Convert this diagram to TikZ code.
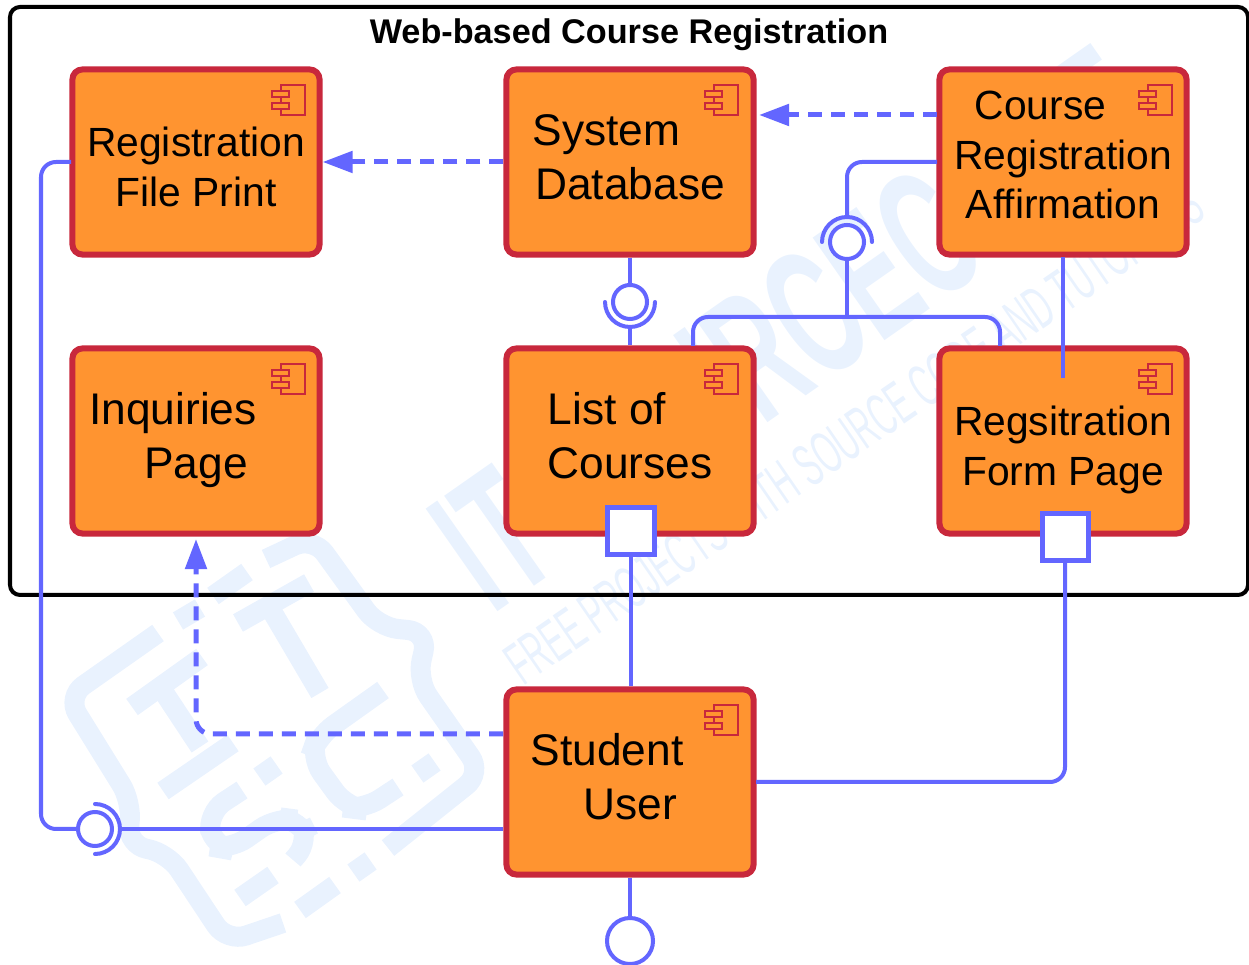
\documentclass[tikz,border=0pt]{standalone}
\usepackage{fontspec}
\setmainfont{Liberation Sans}
\usepackage{xcolor}
\usetikzlibrary{arrows.meta}

\definecolor{compfill}{HTML}{FF9430}
\definecolor{compline}{HTML}{C8283C}
\definecolor{wireblue}{HTML}{6366FF}
\definecolor{markpale}{HTML}{E9F2FE}

\tikzset{
    comp/.style={draw=compline, fill=compfill, line width=0.06cm, rounded corners=0.1cm,
        minimum width=2.47cm, minimum height=1.85cm, inner sep=0pt},
    wire/.style={draw=wireblue, line width=0.04cm, rounded corners=0.15cm},
    dep/.style={wire, line width=0.05cm, dash pattern=on 0.14cm off 0.09cm, -{Triangle[length=0.3cm, width=0.21cm]}},
    lollipop/.style={circle, draw=wireblue, fill=white, line width=0.04cm, minimum size=0.34cm, inner sep=0pt},
    lolliwide/.style={lollipop, minimum size=0.46cm},
    porthole/.style={draw=wireblue, fill=white, line width=0.05cm, minimum size=0.46cm, inner sep=0pt},
    socket/.style={draw=wireblue, line width=0.04cm, line cap=round},
    lbl/.style={font=\fontsize{11.6}{14}\selectfont, text=black, align=center},
    lblbig/.style={font=\fontsize{12.6}{15.3}\selectfont, text=black, align=center},
    pale/.style={draw=markpale, line width=0.2cm, rounded corners=0.2cm},
    paledot/.style={fill=markpale, rotate=35, minimum size=0.21cm, inner sep=0pt}
}

% little component symbol in the corner of a box
\newcommand{\compicon}[1]{
    \begin{scope}[shift={(#1)}, draw=compline, line width=0.012cm]
        \draw (-8,-15) rectangle (16,15);
        \draw[fill=compfill] (-17,-9) rectangle (0,-3);
        \draw[fill=compfill] (-17,3) rectangle (0,9);
    \end{scope}
}

\begin{document}
\begin{tikzpicture}[x=0.01cm, y=-0.01cm]
    \useasboundingbox (0,0) rectangle (1249,965);

    % Watermark
    \draw[pale] (158,633) -- (67,697) -- (132,802) -- (127,845) -- (168,853) -- (227,942) -- (283,923);
    \draw[pale] (266,559) -- (313,537) -- (378,627) -- (428,632) -- (417,680) -- (482,773) -- (388,848);
    \draw[pale] (178,621) -- (200,608);
    \draw[pale] (213,596) -- (247,572);
    \draw[pale] (132,707) -- (202,657);
    \draw[pale] (163,691) -- (200,747);
    \draw[pale] (163,791) -- (233,743);
    \draw[pale] (238,623) -- (309,583);
    \draw[pale] (270,608) -- (320,693);
    \draw[pale] (242,790) -- (207,813) -- (213,847) -- (230,850) -- (277,817) -- (300,820) -- (310,840) -- (293,860);
    \draw[pale] (383,690) -- (317,737) -- (310,757) -- (347,808) -- (363,810) -- (398,787);
    \draw[pale] (240,898) -- (273,875);
    \draw[pale] (300,910) -- (335,885);
    \node[paledot] (dotA) at (268,771) {};
    \node[paledot] (dotB) at (426,768) {};
    \node[paledot] (dotC) at (362,867) {};
    \node[text=markpale, rotate=35, inner sep=0pt] (markbig) at (794,328)
        {\resizebox{8.23cm}{1.27cm}{\bfseries IT SOURCECODE}};
    \node[text=markpale, rotate=34.5, inner sep=0pt] (marksmall) at (854,434)
        {\resizebox{8.3cm}{0.42cm}{FREE PROJECTS WITH SOURCE CODE AND TUTORIALS}};

    % Outer frame
    \draw[line width=0.04cm, rounded corners=0.1cm] (10,7) rectangle (1248,595);
    \node[font=\fontsize{9.73}{12}\selectfont\bfseries] (title) at (629,35) {Web-based Course Registration};

    % Components
    \node[comp] (print) at (196,162) {};
    \node[comp] (dbase) at (630,162) {};
    \node[comp] (affirm) at (1063,162) {};
    \node[comp] (inquiry) at (196,441) {};
    \node[comp] (courses) at (630,441) {};
    \node[comp] (regform) at (1063,441) {};
    \node[comp] (student) at (630,782) {};

    \compicon{289,100}
    \compicon{722,100}
    \compicon{1156,100}
    \compicon{289,379}
    \compicon{722,379}
    \compicon{1156,379}
    \compicon{722,720}

    % Labels
    \node[lbl] (printlbl) at (196,167) {Registration\\File Print};
    \node[lblbig] (dbaselbl) at (630,157) {\hspace*{-0.47cm}System\\Database};
    \node[lbl] (affirmlbl) at (1063,155) {\hspace*{-0.45cm}Course\\Registration\\Affirmation};
    \node[lblbig] (inquirylbl) at (173,440) {Inquiries\\\hspace*{0.46cm}Page};
    \node[lblbig] (courseslbl) at (630,436) {\hspace*{-0.46cm}List of\\Courses};
    \node[lbl] (regformlbl) at (1063,450) {Regsitration\\Form Page};
    \node[lblbig] (studentlbl) at (607,777) {Student\\\hspace*{0.46cm}User};

    % Dependencies
    \coordinate (affirmw) at (937,115);
    \coordinate (dbasee) at (759,115);
    \draw[dep] (affirmw) -- (dbasee);
    \draw[dep] (dbase.west) -- (print.east);
    \coordinate (studentw) at (503,734);
    \coordinate (inqs) at (196,539);
    \draw[dep] (studentw) -- (196,734) -- (inqs);

    % Ports
    \node[porthole] (portc) at (631,531) {};
    \node[porthole] (portr) at (1065,537) {};

    % Interfaces
    \node[lollipop] (ballD) at (630,302) {};
    \draw[socket] (605,302) arc[start angle=180, end angle=0, radius=25];
    \coordinate (sockD) at (630,327);
    \node[lollipop] (ballA) at (847,242) {};
    \draw[socket] (822,242) arc[start angle=180, end angle=360, radius=25];
    \coordinate (sockA) at (847,217);
    \node[lollipop] (ballS) at (95,829) {};
    \draw[socket] (95,804) arc[start angle=-90, end angle=90, radius=25];
    \coordinate (sockS) at (120,829);
    \node[lolliwide] (ballU) at (630,941) {};

    % Plain wires
    \draw[wire] (dbase.south) -- (ballD.north);
    \draw[wire] (sockD) -- (courses.north);
    \coordinate (affirmb) at (1063,257);
    \coordinate (regin) at (1063,378);
    \draw[wire] (affirmb) -- (regin);
    \coordinate (affirmm) at (937,162);
    \coordinate (joint) at (847,317);
    \draw[wire] (affirmm) -- (847,162) -- (sockA);
    \draw[wire] (ballA.south) -- (joint);
    \coordinate (coursetop) at (693,346);
    \coordinate (regtop) at (1000,346);
    \draw[wire] (coursetop) -- (693,317) -- (1000,317) -- (regtop);

    % Student connections
    \coordinate (printw) at (71,162);
    \coordinate (studentm) at (503,829);
    \draw[wire] (printw) -- (41,162) -- (41,829) -- (ballS.west);
    \draw[wire] (sockS) -- (studentm);
    \coordinate (stuport) at (756,782);
    \draw[wire] (stuport) -- (1065,782) -- (portr.south);
    \draw[wire] (portc.south) -- (portc.south |- student.north);
    \draw[wire] (student.south) -- (ballU.north);
\end{tikzpicture}
\end{document}
